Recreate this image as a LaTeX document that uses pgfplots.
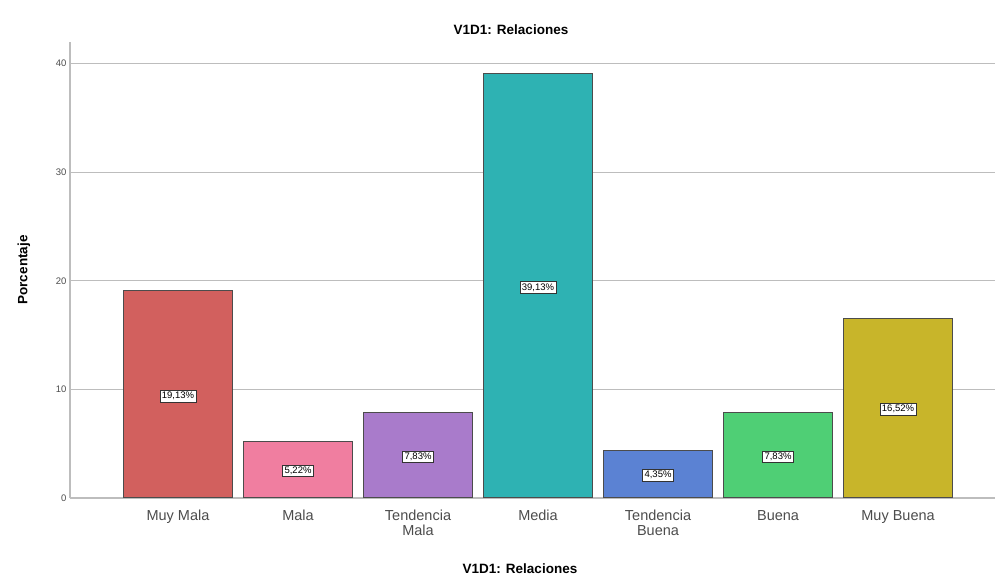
\documentclass[border=0pt]{standalone}
\usepackage{pgfplots}
\pgfplotsset{compat=1.18}
\usepackage{fontspec}
\setmainfont{Liberation Sans}
\definecolor{c1}{HTML}{D2605E}
\definecolor{c2}{HTML}{F07EA0}
\definecolor{c3}{HTML}{A97BCB}
\definecolor{c4}{HTML}{2EB2B3}
\definecolor{c5}{HTML}{5B82D3}
\definecolor{c6}{HTML}{4FCF75}
\definecolor{c7}{HTML}{C8B52A}
\definecolor{gridc}{HTML}{BDBDBD}
\begin{document}
\begin{tikzpicture}[x=1pt,y=1pt]
\useasboundingbox (-70,-85) rectangle (925,498);
\begin{axis}[
  at={(0,0)}, anchor=south west,
  scale only axis, width=925pt, height=456pt,
  xmin=-0.9, xmax=6.808, ymin=0, ymax=42,
  axis x line=none,
  axis y line*=left,
  y axis line style={gridc, line width=1.2pt, -},
  ytick={0,10,20,30,40},
  ymajorgrids, grid style={gridc, line width=1.2pt},
  major tick length=4pt,
  ytick style={gridc, line width=0.8pt},
  yticklabel style={font=\fontsize{9.5}{10}\selectfont, text=black!70},
  /pgf/number format/assume math mode=true,
  ybar, bar width=0.91, bar shift=0pt,
  clip=false,
]
\addplot[fill=c1, draw=black!70, line width=1pt] coordinates {(0,19.13)};
\addplot[fill=c2, draw=black!70, line width=1pt] coordinates {(1,5.22)};
\addplot[fill=c3, draw=black!70, line width=1pt] coordinates {(2,7.83)};
\addplot[fill=c4, draw=black!70, line width=1pt] coordinates {(3,39.13)};
\addplot[fill=c5, draw=black!70, line width=1pt] coordinates {(4,4.35)};
\addplot[fill=c6, draw=black!70, line width=1pt] coordinates {(5,7.83)};
\addplot[fill=c7, draw=black!70, line width=1pt] coordinates {(6,16.52)};
\addplot[draw=none, fill=none, nodes near coords, point meta=explicit symbolic,
  every node near coord/.style={anchor=center, fill=white, draw=black!80, line width=0.6pt,
  inner sep=2pt, font=\fontsize{9.5}{10}\selectfont}]
  coordinates {
  (0,9.4) [19{,}13\%]
  (1,2.5) [5{,}22\%]
  (2,3.8) [7{,}83\%]
  (3,19.4) [39{,}13\%]
  (4,2.1) [4{,}35\%]
  (5,3.8) [7{,}83\%]
  (6,8.2) [16{,}52\%]
  };
\foreach \i/\lab in {0/Muy Mala,1/Mala,2/Tendencia\\Mala,3/Media,4/Tendencia\\Buena,5/Buena,6/Muy Buena}{
  \edef\temp{\noexpand\node[anchor=north, align=center, font=\noexpand\fontsize{14.5}{15.5}\noexpand\selectfont, text=black!70, inner sep=0pt] at (axis cs:\i,0) [yshift=-11pt] {\noexpand\strut\unexpanded\expandafter{\lab}};}
  \temp
}
\end{axis}
\node[font=\bfseries\fontsize{13.5}{14}\selectfont] at (441,468) {V1D1: Relaciones};
\node[font=\bfseries\fontsize{13.5}{14}\selectfont] at (450,-71) {V1D1: Relaciones};
\node[font=\bfseries\fontsize{13.5}{14}\selectfont, rotate=90] at (-46,228) {Porcentaje};
\end{tikzpicture}
\end{document}
